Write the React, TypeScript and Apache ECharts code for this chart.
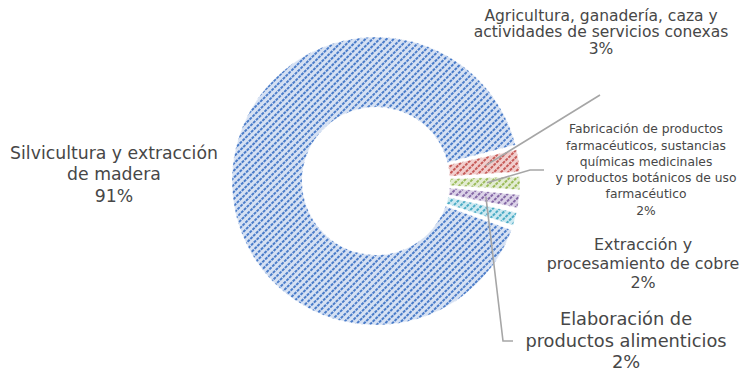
import React, { useEffect, useRef } from "react";
import * as echarts from "echarts";

// ---- data ----
const categories: string[] = [
  "Silvicultura y extracción\nde madera",
  "Agricultura, ganadería, caza y\nactividades de servicios conexas",
  "Fabricación de productos\nfarmacéuticos, sustancias\nquímicas medicinales\ny productos botánicos de uso\nfarmacéutico",
  "Elaboración de\nproductos alimenticios",
  "Extracción y\nprocesamiento de cobre",
];
const values: number[] = [91, 3, 2, 2, 2];

// ---- styles / layout ----
const fills = ["#d6e1f3", "#f1cecd", "#e3ecd3", "#dcd3e8", "#cde9f1"];
const hatch = ["#4a7cc9", "#c65a57", "#9bbb59", "#8468a6", "#4bacc6"];
const fontSizes = [17.3, 15.5, 12.3, 17.8, 15.9];
const lineHeights = [21.5, 16.5, 16.3, 21.5, 19];
const labelPos: number[][] = [
  [114, 174],
  [601, 32],
  [646, 170],
  [626, 340],
  [643, 263],
];
const CX = 376;
const CY = 181;
const R_IN = 74;
const R_OUT = 144;
const START_ANGLE = 341.1;
// leader lines: slice index and the bend / end points near the label
const leaders: { index: number; to: number[][] }[] = [
  { index: 1, to: [[600, 95]] },
  { index: 2, to: [[530, 170], [544, 170]] },
  { index: 3, to: [[503, 341], [513, 341]] },
];

function midAngle(i: number): number {
  const total = values.reduce((a, b) => a + b, 0);
  let cum = 0;
  for (let j = 0; j < i; j++) cum += values[j];
  const a0 = START_ANGLE - (cum / total) * 360;
  return a0 - (values[i] / total) * 180;
}
function slicePoint(i: number, r: number): number[] {
  const a = (midAngle(i) * Math.PI) / 180;
  return [CX + r * Math.cos(a), CY - r * Math.sin(a)];
}

export default function App() {
  const ref = useRef<HTMLDivElement>(null);
  useEffect(() => {
    if (!ref.current) return;
    const chart = echarts.init(ref.current, null, { renderer: "svg" });
    const rMid = (R_IN + R_OUT) / 2 + 2;
    const graphics = leaders.map((l) => ({
      type: "polyline",
      z: 100,
      silent: true,
      shape: { points: [slicePoint(l.index, rMid), ...l.to] },
      style: { stroke: "#a6a6a6", lineWidth: 1.6, fill: null },
    }));
    chart.setOption({
      animation: false,
      backgroundColor: "#ffffff",
      graphic: graphics,
      series: [
        {
          type: "pie",
          center: [CX, CY],
          radius: [R_IN, R_OUT],
          startAngle: START_ANGLE,
          clockwise: true,
          padAngle: 2,
          avoidLabelOverlap: false,
          labelLine: { show: false },
          label: {
            show: true,
            position: "outside",
            color: "#474747",
            fontFamily: "DejaVu Sans",
            formatter: (p: any) => `${p.name}\n${Math.round(p.percent)}%`,
          },
          labelLayout: (p: any) => {
            const i = p.dataIndex;
            return {
              x: labelPos[i][0],
              y: labelPos[i][1],
              align: "center",
              verticalAlign: "middle",
            };
          },
          emphasis: { disabled: true },
          data: values.map((v, i) => ({
            value: v,
            name: categories[i],
            label: { fontSize: fontSizes[i], lineHeight: lineHeights[i], align: "center" },
            itemStyle: {
              color: fills[i],
              borderColor: "rgba(255,255,255,0.35)",
              borderWidth: 1,
              decal: {
                symbol: "rect",
                symbolSize: 1,
                color: hatch[i],
                dashArrayX: [[2.5, 1]],
                dashArrayY: [1.3, 2.4],
                rotation: -Math.PI / 4,
              },
            },
          })),
        },
      ],
    });
    return () => chart.dispose();
  }, []);
  return (
    <div
      ref={ref}
      style={{ position: "fixed", left: 0, top: 0, width: 747, height: 376 }}
    />
  );
}
